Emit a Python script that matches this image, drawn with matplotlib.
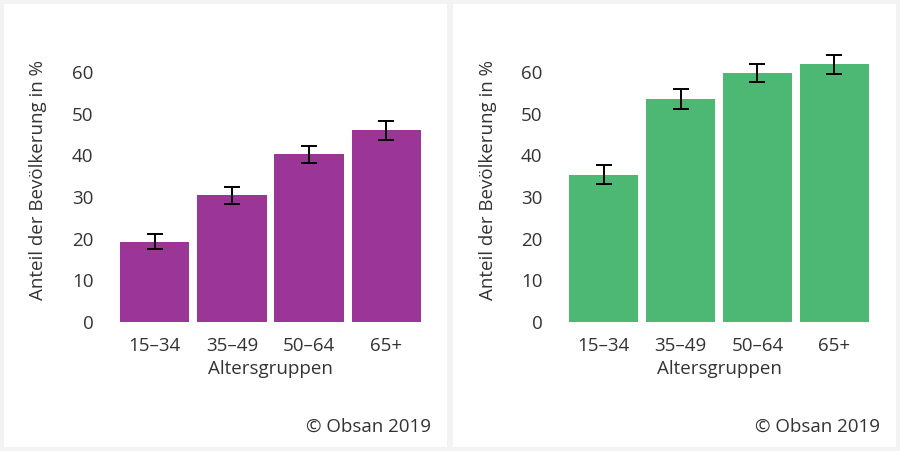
import matplotlib
matplotlib.use("Agg")
import matplotlib.pyplot as plt
from matplotlib.patches import Rectangle

plt.rcParams['font.family'] = ['Open Sans', 'DejaVu Sans']

categories = ["15–34", "35–49", "50–64", "65+"]
left_values = [19.3, 30.4, 40.2, 46.0]
left_err = [1.9, 2.0, 2.1, 2.3]
right_values = [35.3, 53.5, 59.7, 61.8]
right_err = [2.3, 2.3, 2.2, 2.3]
yticks = [0, 10, 20, 30, 40, 50, 60]
ylabel = "Anteil der Bevölkerung in %"
xlabel = "Altersgruppen"
credit = "© Obsan 2019"

W, H = 900, 451
fig = plt.figure(figsize=(W / 100, H / 100), dpi=100)
fig.patch.set_facecolor('#f3f3f3')

def px(x0, y0, x1, y1):
    return [x0 / W, 1 - y1 / H, (x1 - x0) / W, (y1 - y0) / H]

# white panels
for (x0, y0, x1, y1) in [(4, 4, 447, 447), (453, 4, 896, 447)]:
    bg = fig.add_axes(px(x0, y0, x1, y1), zorder=-5)
    bg.set_facecolor('white')
    bg.set_xticks([]); bg.set_yticks([])
    for s in bg.spines.values():
        s.set_visible(False)

text_color = '#333333'
fs = 13.5
ymax = 65
scale = (322 - 72) / 60.0
top_px = 322 - ymax * scale

panels = [
    (120, 421, left_values, left_err, '#9B3597', 38, 270, 431),
    (569, 869, right_values, right_err, '#4DB874', 488, 719, 880),
]

for (ax0, ax1, vals, errs, color, ylx, xlx, crx) in panels:
    ax = fig.add_axes(px(ax0, top_px, ax1, 322), zorder=2)
    ax.set_facecolor('none')
    x = list(range(len(categories)))
    ax.bar(x, vals, width=0.9, color=color, zorder=2)
    ax.errorbar(x, vals, yerr=errs, fmt='none', ecolor='black', elinewidth=1.4,
                capsize=6, capthick=1.4, zorder=3)
    ax.set_xlim(-0.45, len(categories) - 0.55)
    ax.set_ylim(0, ymax)
    ax.set_yticks(yticks)
    ax.set_yticklabels([str(t) for t in yticks])
    ax.set_xticks(x)
    ax.set_xticklabels(categories)
    for s in ax.spines.values():
        s.set_visible(False)
    ax.tick_params(axis='y', length=0, pad=19, labelsize=fs, labelcolor=text_color)
    ax.tick_params(axis='x', length=0, pad=11, labelsize=fs, labelcolor=text_color)
    fig.text(ylx / W, 1 - 180 / H, ylabel, rotation=90, ha='center', va='center',
             fontsize=fs, color=text_color, zorder=3)
    fig.text(xlx / W, 1 - 369 / H, xlabel, ha='center', va='center',
             fontsize=fs, color=text_color, zorder=3)
    fig.text(crx / W, 1 - 427 / H, credit, ha='right', va='center',
             fontsize=fs, color=text_color, zorder=3)

fig.savefig("out.png", dpi=100, facecolor=fig.get_facecolor())
